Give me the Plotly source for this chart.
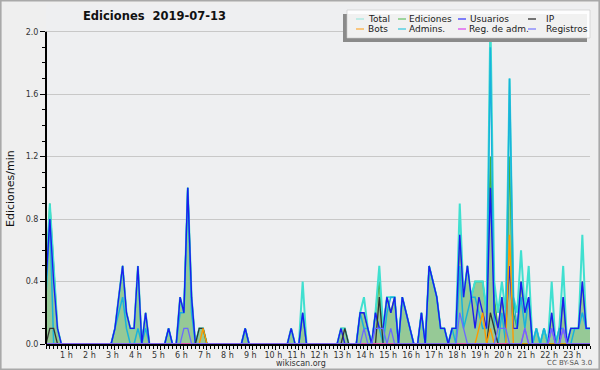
import plotly.graph_objects as go

# ---------------- data (10-minute slots, edits per minute) ----------------
minutes = [i * 10 for i in range(144)]

total = [
    0.4, 0.9, 0.5, 0.1, 0, 0, 0, 0, 0, 0, 0, 0,
    0, 0, 0, 0, 0, 0, 0.1, 0.3, 0.5, 0.2, 0.1, 0.1,
    0.5, 0, 0.2, 0, 0, 0, 0, 0, 0.1, 0, 0, 0.3,
    0.2, 1.0, 0.3, 0, 0.1, 0.1, 0, 0, 0, 0, 0, 0,
    0, 0, 0, 0, 0.1, 0, 0, 0, 0, 0, 0, 0,
    0, 0, 0, 0, 0.1, 0, 0, 0.4, 0, 0, 0, 0,
    0, 0, 0, 0, 0, 0.1, 0.1, 0, 0, 0, 0.2, 0.3,
    0.1, 0, 0.2, 0.5, 0.1, 0.3, 0.3, 0.3, 0, 0.3, 0.2, 0.1,
    0, 0, 0.2, 0, 0.5, 0.4, 0.3, 0.1, 0.1, 0, 0.1, 0.1,
    0.9, 0.3, 0.5, 0.3, 0.4, 0.4, 0.4, 0.2, 2.1, 0.4, 0.2, 0.4,
    0.2, 1.7, 0.3, 0.2, 0.6, 0.2, 0.5, 0, 0.1, 0, 0.1, 0,
    0.4, 0, 0.1, 0.5, 0, 0.1, 0.1, 0.1, 0.7, 0.1, 0.1, 0.1,
]
ediciones = [
    0.4, 0.9, 0.5, 0.1, 0, 0, 0, 0, 0, 0, 0, 0,
    0, 0, 0, 0, 0, 0, 0.1, 0.3, 0.5, 0.2, 0.1, 0.1,
    0.5, 0, 0.2, 0, 0, 0, 0, 0, 0.1, 0, 0, 0.3,
    0.2, 1.0, 0.3, 0, 0.1, 0.1, 0, 0, 0, 0, 0, 0,
    0, 0, 0, 0, 0.1, 0, 0, 0, 0, 0, 0, 0,
    0, 0, 0, 0, 0.1, 0, 0, 0.2, 0, 0, 0, 0,
    0, 0, 0, 0, 0, 0.1, 0.1, 0, 0, 0, 0.2, 0.2,
    0.1, 0, 0.2, 0.4, 0.1, 0.3, 0.2, 0.3, 0, 0.3, 0.2, 0.1,
    0, 0, 0.2, 0, 0.5, 0.4, 0.3, 0.1, 0.1, 0, 0.1, 0.1,
    0.7, 0.3, 0.5, 0.3, 0.4, 0.4, 0.4, 0.2, 1.2, 0.3, 0.1, 0.3,
    0.1, 1.2, 0.2, 0.1, 0.4, 0.2, 0.3, 0, 0.1, 0, 0.1, 0,
    0.2, 0, 0.1, 0.3, 0, 0.1, 0.1, 0.1, 0.4, 0.1, 0.1, 0.1,
]
usuarios = [
    0.4, 0.8, 0.4, 0.1, 0, 0, 0, 0, 0, 0, 0, 0,
    0, 0, 0, 0, 0, 0, 0.1, 0.3, 0.5, 0.2, 0.1, 0.1,
    0.5, 0, 0.2, 0, 0, 0, 0, 0, 0.1, 0, 0, 0.3,
    0.2, 1.0, 0.3, 0, 0, 0, 0, 0, 0, 0, 0, 0,
    0, 0, 0, 0, 0.1, 0, 0, 0, 0, 0, 0, 0,
    0, 0, 0, 0, 0.1, 0, 0, 0.2, 0, 0, 0, 0,
    0, 0, 0, 0, 0, 0.1, 0, 0, 0, 0, 0.2, 0.2,
    0.1, 0, 0.2, 0.1, 0.1, 0.3, 0.2, 0.3, 0, 0.3, 0.2, 0.1,
    0, 0, 0.2, 0, 0.5, 0.4, 0.3, 0.1, 0.1, 0, 0.1, 0.1,
    0.7, 0.3, 0.5, 0.3, 0.1, 0.3, 0.2, 0.1, 1.0, 0.2, 0.1, 0.3,
    0.1, 0.5, 0.1, 0.1, 0.4, 0.2, 0.3, 0, 0, 0, 0, 0,
    0.2, 0, 0, 0.3, 0, 0.1, 0.1, 0.1, 0.4, 0.1, 0.1, 0.1,
]
ip = [
    0, 0.1, 0.1, 0, 0, 0, 0, 0, 0, 0, 0, 0,
    0, 0, 0, 0, 0, 0, 0, 0, 0, 0, 0, 0,
    0, 0, 0, 0, 0, 0, 0, 0, 0, 0, 0, 0,
    0, 0, 0, 0, 0.1, 0.1, 0, 0, 0, 0, 0, 0,
    0, 0, 0, 0, 0, 0, 0, 0, 0, 0, 0, 0,
    0, 0, 0, 0, 0, 0, 0, 0, 0, 0, 0, 0,
    0, 0, 0, 0, 0, 0, 0.1, 0, 0, 0, 0, 0,
    0, 0, 0, 0.3, 0, 0, 0, 0, 0, 0, 0, 0,
    0, 0, 0, 0, 0, 0, 0, 0, 0, 0, 0, 0,
    0, 0, 0, 0, 0, 0, 0, 0, 0.2, 0.1, 0, 0,
    0, 0, 0, 0, 0, 0, 0, 0, 0, 0, 0, 0,
    0, 0, 0, 0, 0, 0, 0, 0, 0, 0, 0, 0,
]
bots = [
    0, 0, 0, 0, 0, 0, 0, 0, 0, 0, 0, 0,
    0, 0, 0, 0, 0, 0, 0, 0, 0, 0, 0, 0,
    0, 0, 0, 0, 0, 0, 0, 0, 0, 0, 0, 0,
    0, 0, 0, 0, 0, 0.1, 0, 0, 0, 0, 0, 0,
    0, 0, 0, 0, 0, 0, 0, 0, 0, 0, 0, 0,
    0, 0, 0, 0, 0, 0, 0, 0, 0, 0, 0, 0,
    0, 0, 0, 0, 0, 0, 0, 0, 0, 0, 0, 0,
    0, 0, 0, 0, 0, 0, 0, 0, 0, 0, 0, 0,
    0, 0, 0, 0, 0, 0, 0, 0, 0, 0, 0, 0,
    0, 0, 0, 0, 0, 0.1, 0.2, 0, 0.1, 0, 0, 0,
    0, 0.7, 0, 0, 0, 0, 0, 0, 0, 0, 0, 0,
    0, 0, 0, 0, 0, 0, 0, 0, 0, 0, 0, 0,
]
admins = [
    0.3, 0.8, 0, 0, 0, 0, 0, 0, 0, 0, 0, 0,
    0, 0, 0, 0, 0, 0, 0.1, 0.2, 0.3, 0.1, 0, 0,
    0.1, 0, 0.1, 0, 0, 0, 0, 0, 0.1, 0, 0, 0.2,
    0.2, 1.0, 0.2, 0, 0, 0, 0, 0, 0, 0, 0, 0,
    0, 0, 0, 0, 0.1, 0, 0, 0, 0, 0, 0, 0,
    0, 0, 0, 0, 0, 0, 0, 0.2, 0, 0, 0, 0,
    0, 0, 0, 0, 0, 0, 0, 0, 0, 0, 0.2, 0.1,
    0.1, 0, 0.2, 0.1, 0, 0.2, 0.3, 0.3, 0, 0.3, 0.2, 0.1,
    0, 0, 0.2, 0, 0.5, 0.4, 0.3, 0.1, 0.1, 0, 0.1, 0,
    0.5, 0.1, 0.2, 0.3, 0.3, 0.2, 0.1, 0.1, 1.9, 0.1, 0, 0.2,
    0, 1.7, 0.3, 0.1, 0.3, 0.1, 0.3, 0, 0.1, 0, 0.1, 0,
    0.1, 0, 0.1, 0.1, 0, 0, 0.1, 0.1, 0.2, 0.1, 0.1, 0.1,
]
reg_adm = [
    0, 0, 0, 0, 0, 0, 0, 0, 0, 0, 0, 0,
    0, 0, 0, 0, 0, 0, 0, 0, 0, 0, 0, 0,
    0, 0, 0, 0, 0, 0, 0, 0, 0, 0, 0, 0,
    0, 0, 0, 0, 0, 0, 0, 0, 0, 0, 0, 0,
    0, 0, 0, 0, 0, 0, 0, 0, 0, 0, 0, 0,
    0, 0, 0, 0, 0, 0, 0, 0, 0, 0, 0, 0,
    0, 0, 0, 0, 0, 0, 0, 0, 0, 0, 0, 0,
    0, 0, 0, 0, 0, 0, 0, 0, 0, 0, 0, 0,
    0, 0, 0, 0, 0, 0, 0, 0, 0, 0, 0, 0,
    0, 0, 0, 0, 0, 0, 0, 0, 0, 0, 0, 0,
    0, 0, 0, 0, 0, 0.1, 0, 0, 0, 0, 0, 0,
    0.1, 0, 0, 0.1, 0, 0, 0, 0, 0, 0, 0, 0,
]
registros = [
    0, 0, 0, 0, 0, 0, 0, 0, 0, 0, 0, 0,
    0, 0, 0, 0, 0, 0, 0, 0, 0, 0, 0, 0,
    0, 0, 0, 0, 0, 0, 0, 0, 0, 0, 0, 0,
    0.1, 0.1, 0, 0, 0, 0, 0, 0, 0, 0, 0, 0,
    0, 0, 0, 0, 0, 0, 0, 0, 0, 0, 0, 0,
    0, 0, 0, 0, 0, 0, 0, 0, 0, 0, 0, 0,
    0, 0, 0, 0, 0, 0, 0, 0, 0, 0, 0, 0.1,
    0, 0, 0.1, 0.1, 0.1, 0, 0.1, 0, 0, 0, 0, 0,
    0, 0, 0, 0, 0, 0, 0, 0, 0, 0, 0, 0,
    0.2, 0.1, 0, 0, 0, 0, 0, 0, 0, 0, 0.1, 0.1,
    0.1, 0, 0, 0, 0, 0.1, 0, 0, 0, 0, 0, 0,
    0.1, 0, 0, 0.1, 0, 0, 0, 0, 0, 0, 0, 0,
]

hour_ticks = [60, 120, 180, 240, 300, 360, 420, 480, 540, 600, 660, 720,
              780, 840, 900, 960, 1020, 1080, 1140, 1200, 1260, 1320, 1380]
hour_labels = ["1 h", "2 h", "3 h", "4 h", "5 h", "6 h", "7 h", "8 h", "9 h",
               "10 h", "11 h", "12 h", "13 h", "14 h", "15 h", "16 h", "17 h",
               "18 h", "19 h", "20 h", "21 h", "22 h", "23 h"]
y_ticks = [0.0, 0.4, 0.8, 1.2, 1.6, 2.0]
y_labels = ["0.0", "0.4", "0.8", "1.2", "1.6", "2.0"]

series = [
    ("Total", total, "#40e0d0", 2.0),
    ("Admins.", admins, "#19b2dc", 1.5),
    ("Usuarios", usuarios, "#1c1cee", 1.4),
    ("IP", ip, "#333333", 1.3),
    ("Bots", bots, "#ff9a00", 1.4),
    ("Reg. de adm.", reg_adm, "#d83cf0", 1.4),
    ("Registros", registros, "#6a6aff", 1.3),
]

# ---------------- geometry ----------------
W, H = 600, 370
PL, PR, PT, PB = 46, 590, 4, 344
Y2 = 31.7  # pixel row of 2.0
y_max = 2.0 * (PB - PT) / (PB - Y2)
X_MAX = 1420


def fx(px):
    return (px - PL) / (PR - PL)


def fy(py):
    return (PB - py) / (PB - PT)


FONT = "DejaVu Sans"

fig = go.Figure()
fig.add_trace(go.Scatter(
    x=minutes, y=ediciones, mode="lines", name="Ediciones",
    line=dict(color="#3fae3f", width=1.4), fill="tozeroy",
    fillcolor="#96c996", showlegend=False, hoverinfo="skip"))
for name, vals, col, w in series:
    fig.add_trace(go.Scatter(
        x=minutes, y=vals, mode="lines", name=name,
        line=dict(color=col, width=w), showlegend=False, hoverinfo="skip"))

shapes = []
annotations = []

# y axis line (up to 2.0 only)
shapes.append(dict(type="line", xref="paper", yref="y", x0=0, x1=0, y0=0, y1=2.0,
                   line=dict(color="black", width=2), layer="above"))

# legend box (shadow + translucent white)
shapes.append(dict(type="rect", xref="paper", yref="paper",
                   x0=fx(343), x1=fx(587), y0=fy(42), y1=fy(14),
                   fillcolor="#8a8a8a", line=dict(width=0), layer="above"))
shapes.append(dict(type="rect", xref="paper", yref="paper",
                   x0=fx(347), x1=fx(590), y0=fy(38), y1=fy(10),
                   fillcolor="rgba(255,255,255,0.88)",
                   line=dict(color="#c8c8c8", width=0.6), layer="above"))

legend_items = [
    ("Total", "#9fe8e0", 356, 367, 19),
    ("Ediciones", "#66c266", 398, 408, 19),
    ("Usuarios", "#3333ff", 458, 469, 19),
    ("IP", "#222222", 528, 545, 19),
    ("Bots", "#ffaa33", 356, 367, 29),
    ("Admins.", "#33c8e0", 398, 408, 29),
    ("Reg. de adm.", "#dd44ee", 458, 468, 29),
    ("Registros", "#7777ff", 528, 545, 29),
]
for label, col, lx, tx, ly in legend_items:
    shapes.append(dict(type="line", xref="paper", yref="paper",
                       x0=fx(lx), x1=fx(lx + 8), y0=fy(ly), y1=fy(ly),
                       line=dict(color=col, width=1.2), layer="above"))
    annotations.append(dict(text=label, xref="paper", yref="paper",
                            x=fx(tx), y=fy(ly), xanchor="left", yanchor="middle",
                            showarrow=False, borderpad=0,
                            font=dict(family=FONT, size=9, color="#1a1a1a")))

# outer border
shapes.append(dict(type="rect", xref="paper", yref="paper",
                   x0=fx(0.8), x1=fx(599.2), y0=fy(369.2), y1=fy(0.8),
                   line=dict(color="#a9a9a9", width=1.6), layer="above"))

# title, axis title, footer
annotations.append(dict(text="<b>Ediciones\u00a0 2019-07-13</b>", xref="paper", yref="paper",
                        x=fx(154), y=fy(16), xanchor="center", yanchor="middle",
                        showarrow=False, font=dict(family=FONT, size=11.5, color="#111")))
annotations.append(dict(text="Ediciones/min", xref="paper", yref="paper",
                        x=fx(10), y=fy(189), xanchor="center", yanchor="middle",
                        textangle=-90, showarrow=False,
                        font=dict(family=FONT, size=11, color="#111")))
annotations.append(dict(text="wikiscan.org", xref="paper", yref="paper",
                        x=fx(301), y=fy(363), xanchor="center", yanchor="middle",
                        showarrow=False, borderpad=0,
                        font=dict(family=FONT, size=8, color="#333")))
annotations.append(dict(text="CC BY-SA 3.0", xref="paper", yref="paper",
                        x=fx(569), y=fy(363), xanchor="center", yanchor="middle",
                        showarrow=False, borderpad=0,
                        font=dict(family=FONT, size=7, color="#555")))

y_minor = [0.1, 0.2, 0.3, 0.5, 0.6, 0.7, 0.9, 1.0, 1.1, 1.3, 1.4, 1.5, 1.7, 1.8, 1.9]

# labels sit slightly left of their tick in the reference: pad on the right
tick_text = [lab + "\u00a0\u00a0" for lab in hour_labels]

fig.update_layout(
    width=W, height=H,
    margin=dict(l=PL, r=W - PR, t=PT, b=H - PB, autoexpand=False),
    paper_bgcolor="#efefef", plot_bgcolor="#eeeff1",
    showlegend=False,
    shapes=shapes, annotations=annotations,
    xaxis=dict(
        range=[0, X_MAX], showgrid=False, zeroline=False, automargin=False,
        showline=True, linecolor="black", linewidth=2,
        tickmode="array", tickvals=hour_ticks, ticktext=tick_text, tickangle=0,
        ticks="outside", ticklen=4, tickcolor="black", tickwidth=1,
        ticklabelstandoff=-2,
        tickfont=dict(family=FONT, size=8, color="#333"),
        minor=dict(tickmode="linear", tick0=0, dtick=10, ticks="outside",
                   ticklen=3, tickcolor="black", tickwidth=1, showgrid=False),
    ),
    yaxis=dict(
        range=[0, y_max], showgrid=True, gridcolor="#c8c8c8", gridwidth=1,
        zeroline=False, showline=False, automargin=False,
        tickmode="array", tickvals=y_ticks, ticktext=y_labels,
        ticks="outside", ticklen=5, tickcolor="black", tickwidth=1,
        tickfont=dict(family=FONT, size=8, color="#333"),
        minor=dict(tickmode="array", tickvals=y_minor, ticks="outside",
                   ticklen=3, tickcolor="black", tickwidth=1, showgrid=False),
    ),
)

fig.write_html("out.html", config={"displayModeBar": False},
               post_script="document.body.style.margin='0';document.body.style.padding='0';")
